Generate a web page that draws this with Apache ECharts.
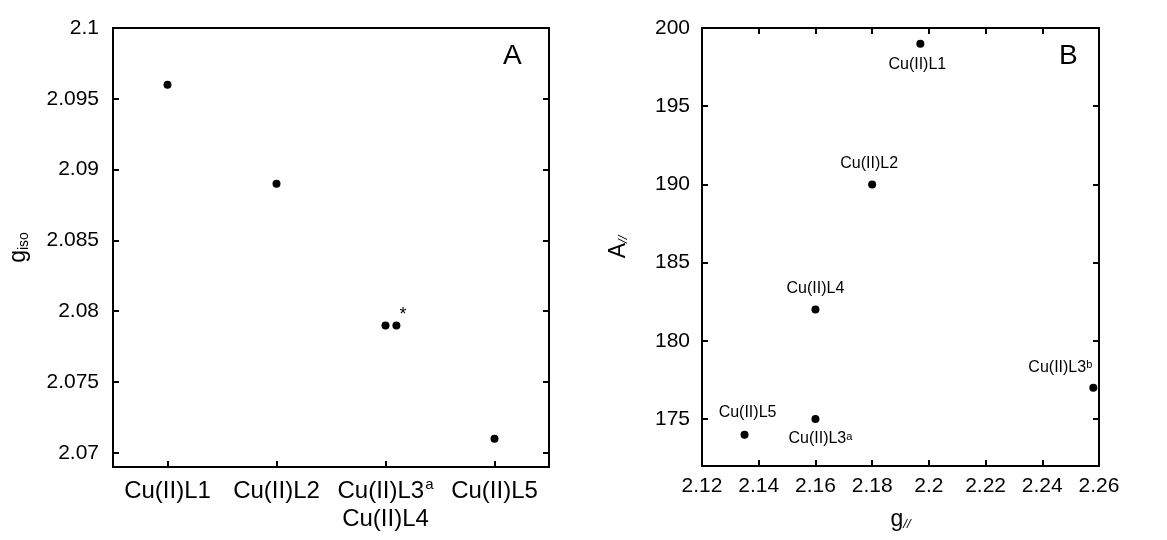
<!DOCTYPE html>
<html>
<head>
<meta charset="utf-8">
<script src="https://cdn.jsdelivr.net/npm/echarts@6/dist/echarts.min.js"></script>
<style>
html,body{margin:0;padding:0;background:#fff;}
#c{width:1167px;height:540px;}
</style>
</head>
<body>
<div id="c"></div>
<script>
// ---- Data ----
const categoriesA = ['Cu(II)L1', 'Cu(II)L2', 'Cu(II)L3{sup|a}\nCu(II)L4', 'Cu(II)L5'];
const pointNamesA = ['Cu(II)L1', 'Cu(II)L2', 'Cu(II)L3a', 'Cu(II)L4', 'Cu(II)L5'];
const pointCatA = [1, 2, 3, 3.1, 4];
const gIso = [2.096, 2.089, 2.079, 2.079, 2.071];
const yTicksA = [2.07, 2.075, 2.08, 2.085, 2.09, 2.095, 2.1];

const pointNamesB = ['Cu(II)L1', 'Cu(II)L2', 'Cu(II)L4', 'Cu(II)L5', 'Cu(II)L3a', 'Cu(II)L3b'];
const gPar = [2.197, 2.18, 2.16, 2.135, 2.16, 2.258];
const aPar = [199, 190, 182, 174, 175, 177];
const xTicksB = [2.12, 2.14, 2.16, 2.18, 2.2, 2.22, 2.24, 2.26];
const yTicksB = [175, 180, 185, 190, 195, 200];

// ---- Chart ----
const FONT = 'Liberation Sans, Arial, sans-serif';
const BLACK = '#000';
const TXT = '#000';
const fmt = v => String(parseFloat(Number(v).toFixed(4)));

const labelTextB = {
  'Cu(II)L1': 'Cu(II)L1',
  'Cu(II)L2': 'Cu(II)L2',
  'Cu(II)L4': 'Cu(II)L4',
  'Cu(II)L5': 'Cu(II)L5',
  'Cu(II)L3a': 'Cu(II)L3{sup|a}',
  'Cu(II)L3b': 'Cu(II)L3{sup|b}'
};
const labelPlaceB = {
  'Cu(II)L1': {position: 'bottom', offset: [-3, 4]},
  'Cu(II)L2': {position: 'top', offset: [-3, -4]},
  'Cu(II)L4': {position: 'top', offset: [0, -4]},
  'Cu(II)L5': {position: 'top', offset: [3, -5]},
  'Cu(II)L3a': {position: 'bottom', offset: [5, 3]},
  'Cu(II)L3b': {position: 'top', offset: [-33, -3]}
};

const supRichB = {
  sup: {fontSize: 11, verticalAlign: 'top', lineHeight: 12, padding: [0, 0, 9, 0], fontFamily: FONT, color: TXT}
};
const supRichA = {
  sup: {fontSize: 15, verticalAlign: 'top', lineHeight: 16, padding: [0, 0, 11, 1], fontFamily: FONT, color: TXT}
};

const tickStyle = {show: true, inside: true, length: 6, lineStyle: {color: BLACK, width: 2}};
const lineStyle = {show: true, onZero: false, lineStyle: {color: BLACK, width: 2}};

const dataA = pointNamesA.map((n, i) => ({
  name: n,
  value: [pointCatA[i], gIso[i]],
  label: n === 'Cu(II)L4' ? {show: true, formatter: '*', position: 'right', offset: [-6, -10], fontSize: 18, color: TXT, fontFamily: FONT} : {show: false}
}));

const dataB = pointNamesB.map((n, i) => ({
  name: n,
  value: [gPar[i], aPar[i]],
  label: Object.assign({show: true, formatter: labelTextB[n]}, labelPlaceB[n])
}));

const option = {
  animation: false,
  backgroundColor: '#fff',
  textStyle: {fontFamily: FONT},
  grid: [
    {left: 113, right: 618, top: 28, bottom: 73, show: true, borderColor: BLACK, borderWidth: 2},
    {left: 702, right: 68, top: 28, bottom: 74, show: true, borderColor: BLACK, borderWidth: 2}
  ],
  xAxis: [
    { // A categories
      gridIndex: 0, type: 'category', data: categoriesA, position: 'bottom',
      boundaryGap: true,
      axisLine: lineStyle,
      axisTick: Object.assign({}, tickStyle, {alignWithLabel: true}),
      axisLabel: {color: TXT, fontSize: 24, margin: 10, fontFamily: FONT, lineHeight: 28, rich: supRichA, interval: 0},
      splitLine: {show: false}
    },
    { // A data positions
      gridIndex: 0, type: 'value', min: 0.5, max: 4.5, show: false
    },
    { // B bottom
      gridIndex: 1, type: 'value', min: 2.12, max: 2.26, position: 'bottom',
      axisLine: lineStyle,
      axisTick: Object.assign({}, tickStyle, {customValues: xTicksB}),
      axisLabel: {color: TXT, fontSize: 21, margin: 10, fontFamily: FONT, customValues: xTicksB, formatter: fmt},
      splitLine: {show: false},
      name: 'g{sub|//}', nameLocation: 'middle', nameGap: 42,
      nameTextStyle: {color: TXT, fontSize: 23, fontFamily: FONT,
        rich: {sub: {fontSize: 13, fontStyle: 'italic', verticalAlign: 'bottom', padding: [10, 0, 0, 0], fontFamily: FONT, color: TXT}}}
    },
    { // B top ticks
      gridIndex: 1, type: 'value', min: 2.12, max: 2.26, position: 'top',
      axisLine: lineStyle,
      axisTick: Object.assign({}, tickStyle, {customValues: xTicksB}),
      axisLabel: {show: false},
      splitLine: {show: false}
    }
  ],
  yAxis: [
    { // A left
      gridIndex: 0, type: 'value', min: 2.069, max: 2.1, position: 'left',
      axisLine: lineStyle,
      axisTick: Object.assign({}, tickStyle, {customValues: yTicksA}),
      axisLabel: {color: TXT, fontSize: 21, margin: 14, fontFamily: FONT, customValues: yTicksA, formatter: fmt},
      splitLine: {show: false},
      name: 'g{sub|iso}', nameLocation: 'middle', nameGap: 82,
      nameTextStyle: {color: TXT, fontSize: 23, fontFamily: FONT,
        rich: {sub: {fontSize: 14, verticalAlign: 'bottom', padding: [10, 0, 0, 0], fontFamily: FONT, color: TXT}}}
    },
    { // A right ticks
      gridIndex: 0, type: 'value', min: 2.069, max: 2.1, position: 'right',
      axisLine: lineStyle,
      axisTick: Object.assign({}, tickStyle, {customValues: yTicksA}),
      axisLabel: {show: false},
      splitLine: {show: false}
    },
    { // B left
      gridIndex: 1, type: 'value', min: 172, max: 200, position: 'left',
      axisLine: lineStyle,
      axisTick: Object.assign({}, tickStyle, {customValues: yTicksB}),
      axisLabel: {color: TXT, fontSize: 21, margin: 12, fontFamily: FONT, customValues: yTicksB, formatter: fmt},
      splitLine: {show: false},
      name: 'A{sub|//}', nameLocation: 'middle', nameGap: 72,
      nameTextStyle: {color: TXT, fontSize: 23, fontFamily: FONT,
        rich: {sub: {fontSize: 13, fontStyle: 'italic', verticalAlign: 'bottom', padding: [10, 0, 0, 0], fontFamily: FONT, color: TXT}}}
    },
    { // B right ticks
      gridIndex: 1, type: 'value', min: 172, max: 200, position: 'right',
      axisLine: lineStyle,
      axisTick: Object.assign({}, tickStyle, {customValues: yTicksB}),
      axisLabel: {show: false},
      splitLine: {show: false}
    }
  ],
  series: [
    {
      type: 'scatter', xAxisIndex: 1, yAxisIndex: 0,
      symbol: 'circle', symbolSize: 8,
      itemStyle: {color: BLACK, opacity: 1},
      data: dataA
    },
    {
      type: 'scatter', xAxisIndex: 2, yAxisIndex: 2,
      symbol: 'circle', symbolSize: 8,
      itemStyle: {color: BLACK, opacity: 1},
      label: {color: TXT, fontSize: 16, fontFamily: FONT, rich: supRichB},
      data: dataB
    }
  ],
  graphic: [
    {type: 'text', left: 503, top: 42, style: {text: 'A', fontSize: 28, fill: TXT, fontFamily: FONT}},
    {type: 'text', left: 1059, top: 42, style: {text: 'B', fontSize: 28, fill: TXT, fontFamily: FONT}}
  ]
};

const chart = echarts.init(document.getElementById('c'), null, {renderer: 'canvas'});
chart.setOption(option);
</script>
</body>
</html>
